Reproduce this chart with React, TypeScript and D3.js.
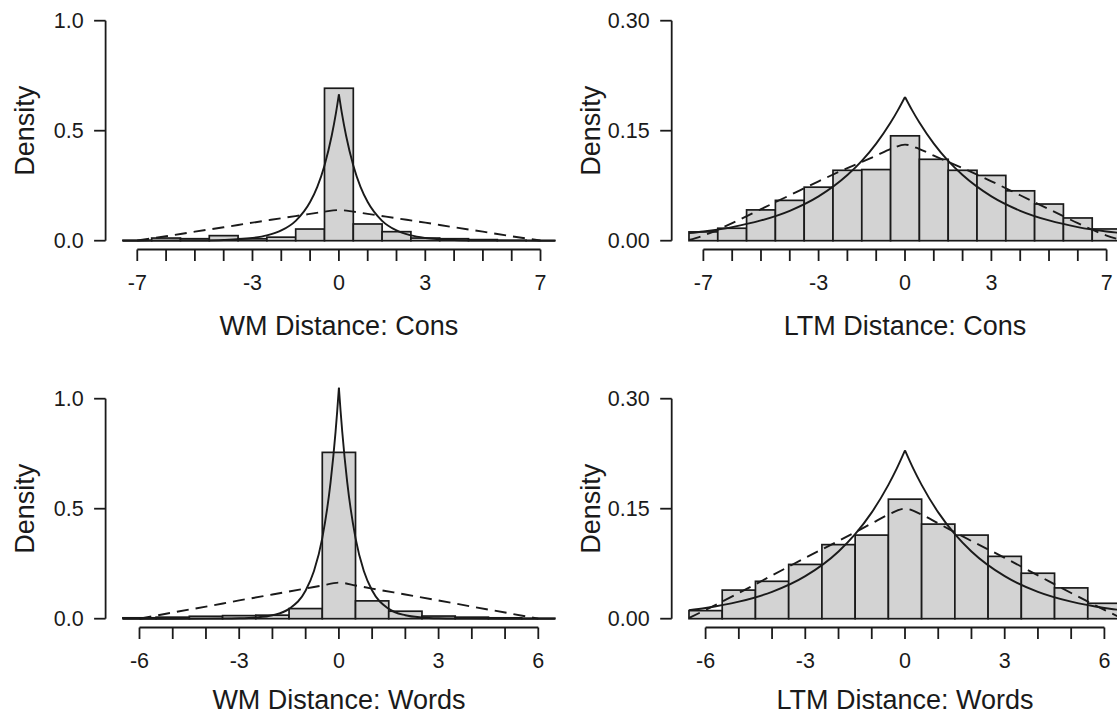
import React from "react";
import * as d3 from "d3";

// ---------------- Data ----------------
// Panel A: WM Distance: Cons
const wmConsBins = [-7, -6, -5, -4, -3, -2, -1, 0, 1, 2, 3, 4, 5, 6, 7];
const wmConsDensity = [0.002, 0.012, 0.009, 0.023, 0.009, 0.016, 0.053, 0.693, 0.076, 0.041, 0.012, 0.009, 0.005, 0.002, 0.001];
const wmConsSolidX = [-7.5, -7, -6, -5, -4, -3, -2.5, -2, -1.5, -1, -0.75, -0.5, -0.25, -0.1, 0, 0.1, 0.25, 0.5, 0.75, 1, 1.5, 2, 2.5, 3, 4, 5, 6, 7, 7.5];
const wmConsSolidY = [0.0, 0.0001, 0.0002, 0.0009, 0.0033, 0.0123, 0.0239, 0.0465, 0.0904, 0.176, 0.245, 0.342, 0.477, 0.582, 0.665, 0.582, 0.477, 0.342, 0.245, 0.176, 0.0904, 0.0465, 0.0239, 0.0123, 0.0033, 0.0009, 0.0002, 0.0001, 0.0];
const wmConsDashedX = [-7, -6, -5, -4, -3, -2, -1, -0.5, 0, 0.5, 1, 2, 3, 4, 5, 6, 7];
const wmConsDashedY = [0.001, 0.02, 0.041, 0.061, 0.082, 0.102, 0.122, 0.132, 0.139, 0.132, 0.122, 0.102, 0.082, 0.061, 0.041, 0.02, 0.001];

// Panel B: LTM Distance: Cons
const ltmConsBins = [-7, -6, -5, -4, -3, -2, -1, 0, 1, 2, 3, 4, 5, 6, 7];
const ltmConsDensity = [0.012, 0.017, 0.042, 0.055, 0.073, 0.096, 0.097, 0.143, 0.111, 0.096, 0.089, 0.068, 0.05, 0.031, 0.016];
const ltmConsSolidX = [-7.5, -7, -6, -5, -4, -3, -2, -1.5, -1, -0.5, -0.25, 0, 0.25, 0.5, 1, 1.5, 2, 3, 4, 5, 6, 7, 7.5];
const ltmConsSolidY = [0.0104, 0.0126, 0.0186, 0.0276, 0.0408, 0.0604, 0.0895, 0.1088, 0.1324, 0.1611, 0.1777, 0.196, 0.1777, 0.1611, 0.1324, 0.1088, 0.0895, 0.0604, 0.0408, 0.0276, 0.0186, 0.0126, 0.0104];
const ltmConsDashedX = [-7.5, -7, -6, -5, -4, -3, -2, -1, -0.5, 0, 0.5, 1, 2, 3, 4, 5, 6, 7, 7.5];
const ltmConsDashedY = [0.001, 0.007, 0.024, 0.043, 0.062, 0.081, 0.099, 0.116, 0.125, 0.131, 0.125, 0.116, 0.099, 0.081, 0.062, 0.043, 0.024, 0.007, 0.001];

// Panel C: WM Distance: Words
const wmWordsBins = [-6, -5, -4, -3, -2, -1, 0, 1, 2, 3, 4, 5, 6];
const wmWordsDensity = [0.004, 0.007, 0.011, 0.014, 0.016, 0.046, 0.756, 0.081, 0.034, 0.012, 0.007, 0.004, 0.002];
const wmWordsSolidX = [-6.5, -6, -5, -4, -3, -2.5, -2, -1.5, -1, -0.75, -0.5, -0.25, -0.1, -0.05, 0, 0.05, 0.1, 0.25, 0.5, 0.75, 1, 1.5, 2, 2.5, 3, 4, 5, 6, 6.5];
const wmWordsSolidY = [0.0, 0.0, 0.0, 0.0002, 0.0019, 0.0054, 0.0156, 0.0447, 0.128, 0.2165, 0.3665, 0.6205, 0.8507, 0.945, 1.05, 0.945, 0.8507, 0.6205, 0.3665, 0.2165, 0.128, 0.0447, 0.0156, 0.0054, 0.0019, 0.0002, 0.0, 0.0, 0.0];
const wmWordsDashedX = [-6, -5, -4, -3, -2, -1, -0.5, 0, 0.5, 1, 2, 3, 4, 5, 6];
const wmWordsDashedY = [0.0, 0.028, 0.055, 0.083, 0.11, 0.137, 0.151, 0.164, 0.151, 0.137, 0.11, 0.083, 0.055, 0.028, 0.0];

// Panel D: LTM Distance: Words
const ltmWordsBins = [-6, -5, -4, -3, -2, -1, 0, 1, 2, 3, 4, 5, 6];
const ltmWordsDensity = [0.011, 0.039, 0.051, 0.074, 0.101, 0.114, 0.163, 0.129, 0.114, 0.085, 0.062, 0.042, 0.021];
const ltmWordsSolidX = [-6.5, -6, -5, -4, -3, -2, -1.5, -1, -0.5, -0.25, 0, 0.25, 0.5, 1, 1.5, 2, 3, 4, 5, 6, 6.5];
const ltmWordsSolidY = [0.0117, 0.0146, 0.0232, 0.0366, 0.058, 0.0917, 0.1153, 0.145, 0.1825, 0.2046, 0.2295, 0.2046, 0.1825, 0.145, 0.1153, 0.0917, 0.058, 0.0366, 0.0232, 0.0146, 0.0117];
const ltmWordsDashedX = [-6.5, -6, -5, -4, -3, -2, -1, -0.5, 0, 0.5, 1, 2, 3, 4, 5, 6, 6.5];
const ltmWordsDashedY = [0.001, 0.012, 0.035, 0.059, 0.083, 0.106, 0.13, 0.142, 0.15, 0.142, 0.13, 0.106, 0.083, 0.059, 0.035, 0.012, 0.001];

// Axes
const consXTicks = [-7, -6, -5, -4, -3, -2, -1, 0, 1, 2, 3, 4, 5, 6, 7];
const consXLabels = [-7, -3, 0, 3, 7];
const wordsXTicks = [-6, -5, -4, -3, -2, -1, 0, 1, 2, 3, 4, 5, 6];
const wordsXLabels = [-6, -3, 0, 3, 6];
const wmYTicks = [0, 0.5, 1.0];
const wmYLabels = ["0.0", "0.5", "1.0"];
const ltmYTicks = [0, 0.15, 0.3];
const ltmYLabels = ["0.00", "0.15", "0.30"];
const titles = ["WM Distance: Cons", "LTM Distance: Cons", "WM Distance: Words", "LTM Distance: Words"];
const yAxisTitle = "Density";

// ---------------- Layout ----------------
const W = 1117;
const H = 717;
const colLeft = [105.6, 671.7];
const rowTop = [11.9, 389.9];
const titleOffset = [85.5, 81];
const plotW = 466.6;
const plotH = 237.6;
const FONT = "'Liberation Sans', Arial, Helvetica, sans-serif";
const INK = "#1a1a1a";
const TICK_FS = 21.5;
const LAB_FS = 27;
const TICK_LEN = 11.5;

type PanelProps = {
  left: number;
  top: number;
  titleDy: number;
  bins: number[];
  density: number[];
  solidX: number[];
  solidY: number[];
  dashedX: number[];
  dashedY: number[];
  xTicks: number[];
  xLabels: number[];
  yTicks: number[];
  yLabels: string[];
  title: string;
};

function Panel(p: PanelProps) {
  const lo = p.bins[0] - 0.5;
  const hi = p.bins[p.bins.length - 1] + 0.5;
  const ext = 0.04 * (hi - lo);
  const x = d3.scaleLinear().domain([lo - ext, hi + ext]).range([p.left, p.left + plotW]);
  const yMax = p.yTicks[p.yTicks.length - 1];
  const y = d3.scaleLinear().domain([-0.04 * yMax, 1.04 * yMax]).range([p.top + plotH, p.top]);

  const solidPts = p.solidX.map((v, i) => [v, p.solidY[i]] as [number, number]);
  const leftHalf = solidPts.filter((d) => d[0] <= 0);
  const rightHalf = solidPts.filter((d) => d[0] >= 0);
  const dashedPts = p.dashedX.map((v, i) => [v, p.dashedY[i]] as [number, number]);

  const line = d3
    .line<[number, number]>()
    .x((d) => x(d[0]))
    .y((d) => y(d[1]))
    .curve(d3.curveMonotoneX);

  const axisY = p.top + plotH;
  const x0 = x(p.xTicks[0]);
  const x1 = x(p.xTicks[p.xTicks.length - 1]);

  return (
    <g>
      {p.bins.map((b, i) => (
        <rect
          key={"bar" + i}
          x={x(b - 0.5)}
          y={y(p.density[i])}
          width={x(b + 0.5) - x(b - 0.5)}
          height={y(0) - y(p.density[i])}
          fill="#d3d3d3"
          stroke={INK}
          strokeWidth={1.7}
        />
      ))}
      <path d={line(leftHalf) || ""} fill="none" stroke={INK} strokeWidth={1.9} />
      <path d={line(rightHalf) || ""} fill="none" stroke={INK} strokeWidth={1.9} />
      <path d={line(dashedPts) || ""} fill="none" stroke={INK} strokeWidth={1.9} strokeDasharray="12,7" />

      <line x1={x0} x2={x1} y1={axisY} y2={axisY} stroke={INK} strokeWidth={1.8} />
      {p.xTicks.map((t) => (
        <line key={"xt" + t} x1={x(t)} x2={x(t)} y1={axisY} y2={axisY + TICK_LEN} stroke={INK} strokeWidth={1.8} />
      ))}
      {p.xLabels.map((t) => (
        <text
          key={"xl" + t}
          x={x(t)}
          y={axisY + 40}
          textAnchor="middle"
          fontSize={TICK_FS}
          fontFamily={FONT}
          fill={INK}
        >
          {String(t)}
        </text>
      ))}
      <text x={p.left + plotW / 2} y={axisY + p.titleDy} textAnchor="middle" fontSize={LAB_FS} fontFamily={FONT} fill={INK}>
        {p.title}
      </text>

      <line x1={p.left} x2={p.left} y1={y(0)} y2={y(yMax)} stroke={INK} strokeWidth={1.8} />
      {p.yTicks.map((t, i) => (
        <g key={"yt" + i}>
          <line x1={p.left - TICK_LEN} x2={p.left} y1={y(t)} y2={y(t)} stroke={INK} strokeWidth={1.8} />
          <text
            x={p.left - 22}
            y={y(t) + 7.7}
            textAnchor="end"
            fontSize={TICK_FS}
            fontFamily={FONT}
            fill={INK}
          >
            {p.yLabels[i]}
          </text>
        </g>
      ))}
      <text
        transform={`translate(${p.left - 72},${p.top + plotH / 2}) rotate(-90)`}
        textAnchor="middle"
        fontSize={LAB_FS}
        fontFamily={FONT}
        fill={INK}
      >
        {yAxisTitle}
      </text>
    </g>
  );
}

export default function App() {
  return (
    <svg
      width={W}
      height={H}
      viewBox={`0 0 ${W} ${H}`}
      style={{ position: "fixed", left: 0, top: 0, background: "#ffffff", display: "block" }}
    >
      <rect x={0} y={0} width={W} height={H} fill="#ffffff" />
      <Panel
        left={colLeft[0]}
        top={rowTop[0]}
        titleDy={titleOffset[0]}
        bins={wmConsBins}
        density={wmConsDensity}
        solidX={wmConsSolidX}
        solidY={wmConsSolidY}
        dashedX={wmConsDashedX}
        dashedY={wmConsDashedY}
        xTicks={consXTicks}
        xLabels={consXLabels}
        yTicks={wmYTicks}
        yLabels={wmYLabels}
        title={titles[0]}
      />
      <Panel
        left={colLeft[1]}
        top={rowTop[0]}
        titleDy={titleOffset[0]}
        bins={ltmConsBins}
        density={ltmConsDensity}
        solidX={ltmConsSolidX}
        solidY={ltmConsSolidY}
        dashedX={ltmConsDashedX}
        dashedY={ltmConsDashedY}
        xTicks={consXTicks}
        xLabels={consXLabels}
        yTicks={ltmYTicks}
        yLabels={ltmYLabels}
        title={titles[1]}
      />
      <Panel
        left={colLeft[0]}
        top={rowTop[1]}
        titleDy={titleOffset[1]}
        bins={wmWordsBins}
        density={wmWordsDensity}
        solidX={wmWordsSolidX}
        solidY={wmWordsSolidY}
        dashedX={wmWordsDashedX}
        dashedY={wmWordsDashedY}
        xTicks={wordsXTicks}
        xLabels={wordsXLabels}
        yTicks={wmYTicks}
        yLabels={wmYLabels}
        title={titles[2]}
      />
      <Panel
        left={colLeft[1]}
        top={rowTop[1]}
        titleDy={titleOffset[1]}
        bins={ltmWordsBins}
        density={ltmWordsDensity}
        solidX={ltmWordsSolidX}
        solidY={ltmWordsSolidY}
        dashedX={ltmWordsDashedX}
        dashedY={ltmWordsDashedY}
        xTicks={wordsXTicks}
        xLabels={wordsXLabels}
        yTicks={ltmYTicks}
        yLabels={ltmYLabels}
        title={titles[3]}
      />
    </svg>
  );
}
